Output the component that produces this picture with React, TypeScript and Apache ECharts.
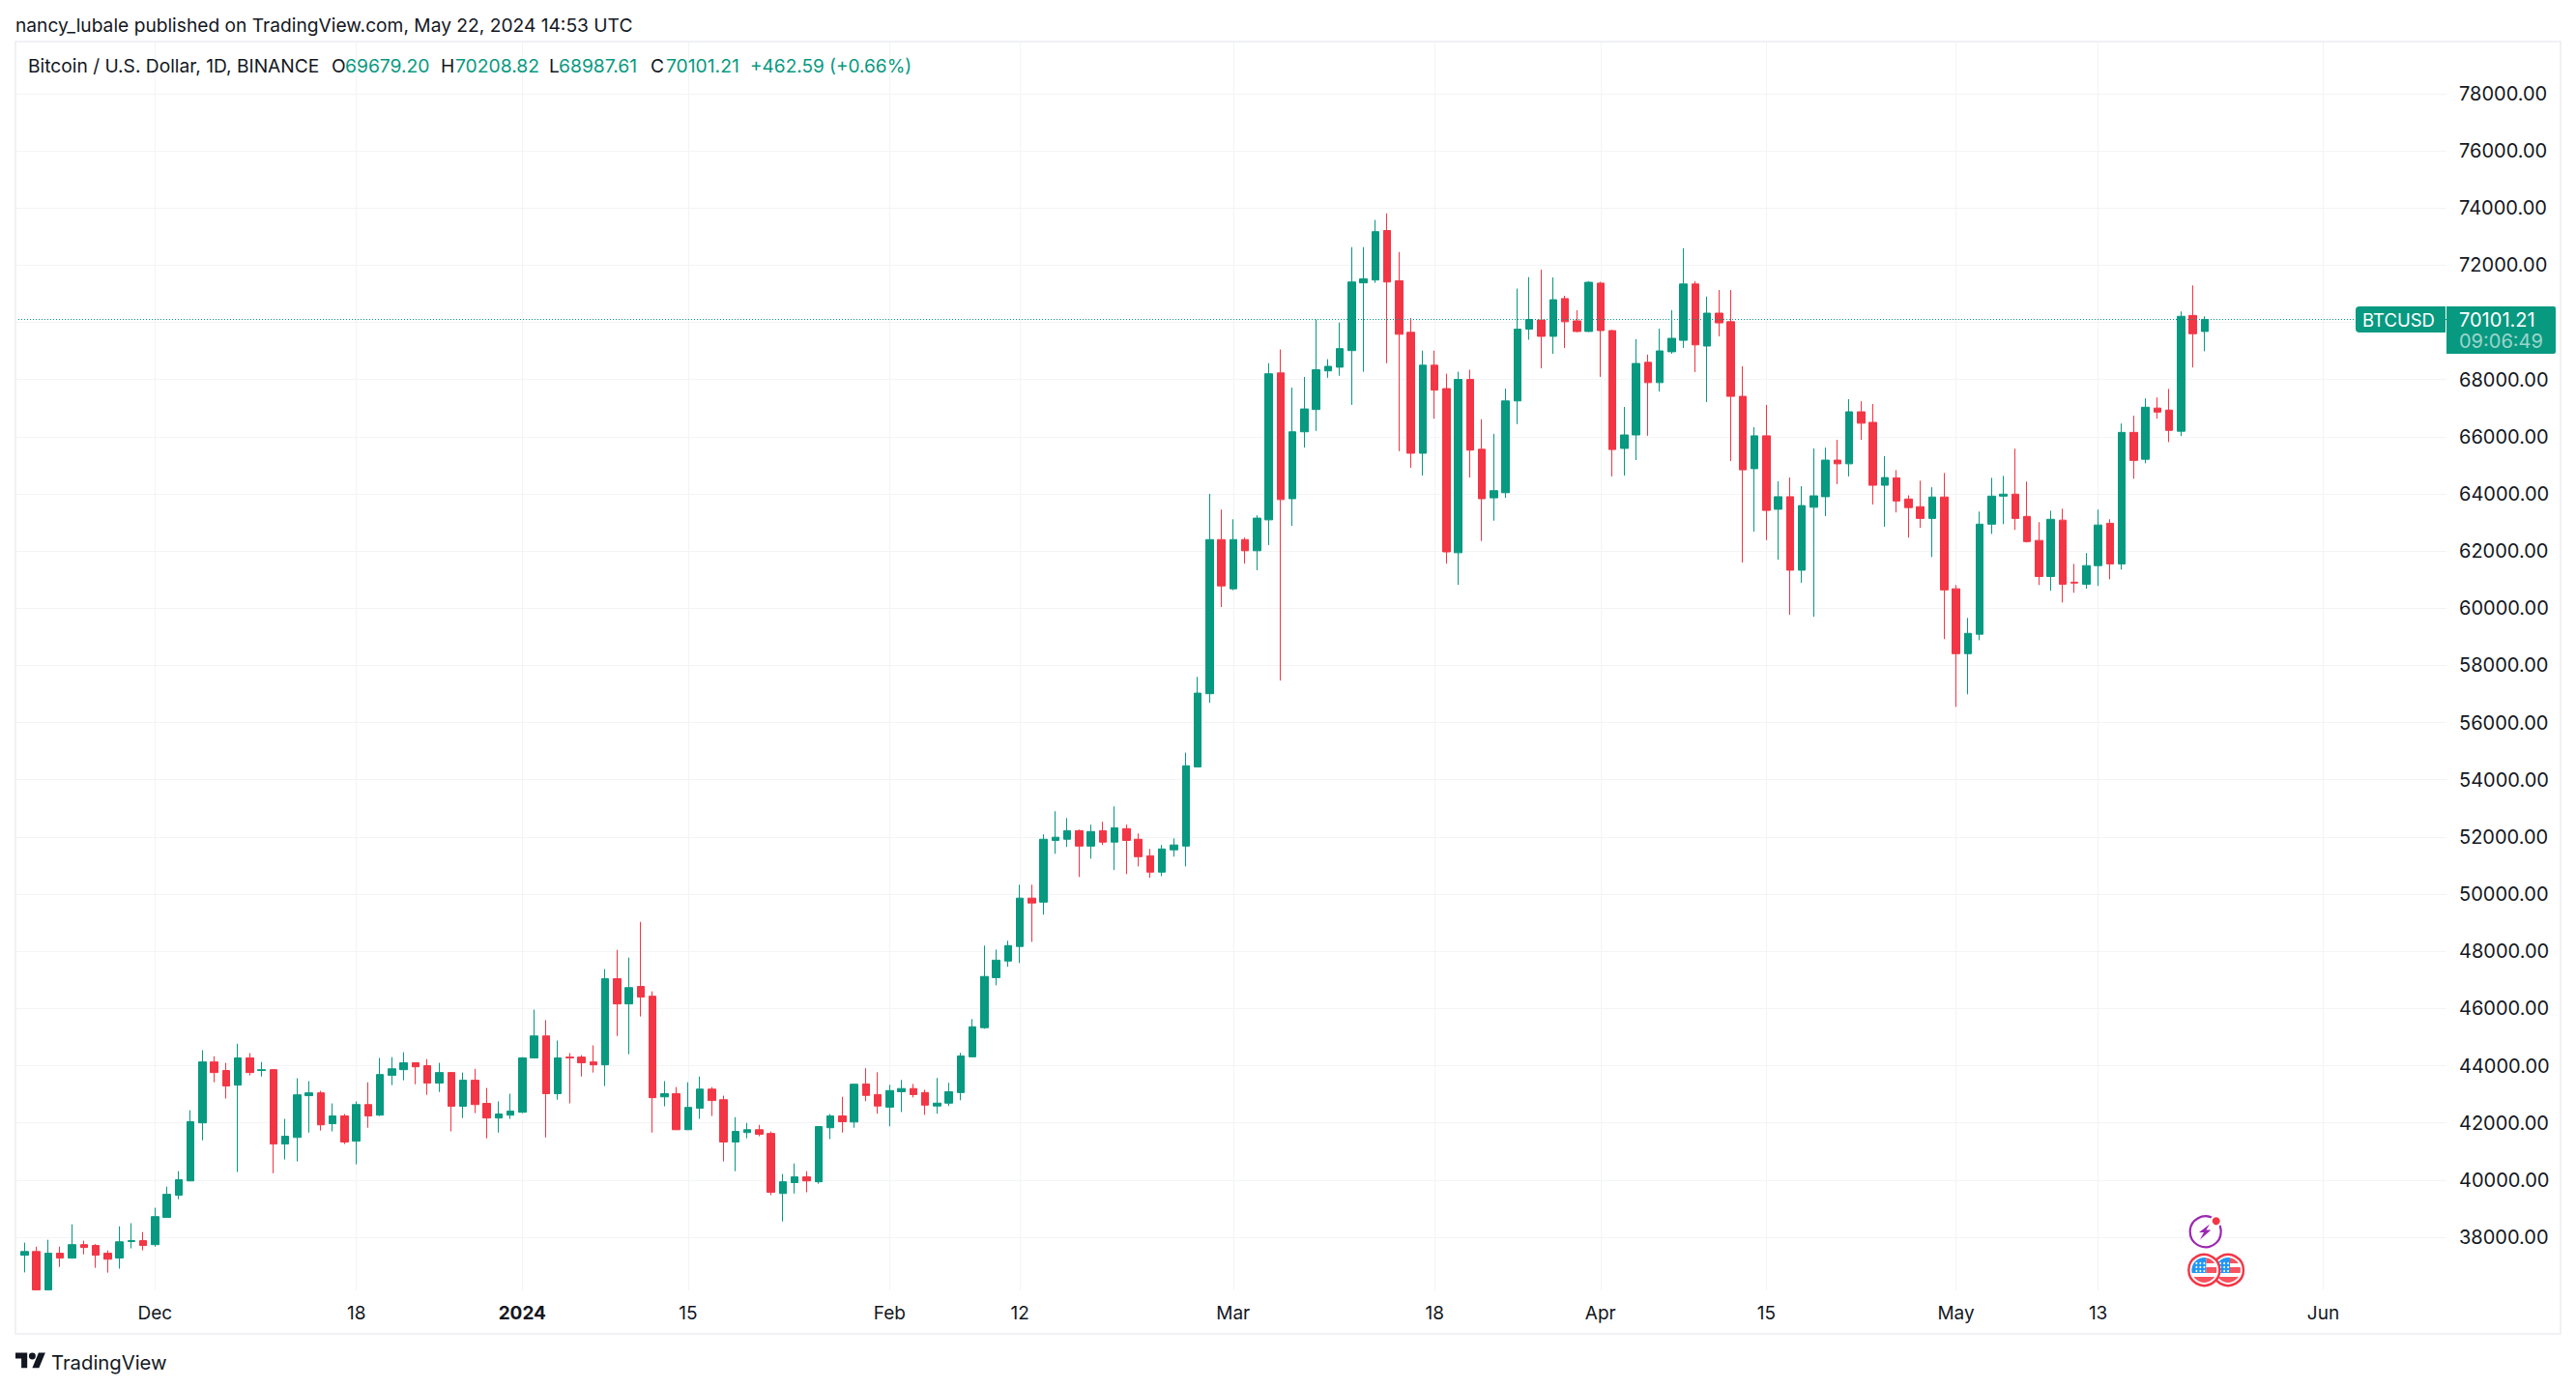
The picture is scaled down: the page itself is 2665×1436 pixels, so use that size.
import React, { useEffect, useRef } from "react";
import * as echarts from "echarts";

const DAY_MS = 86400000;
const firstDate = "2023-11-19";
const opens = [
36670,37370,37500,36160,37440,37270,37740,37710,37440,37270,
37850,37880,37740,38690,39470,39970,42000,44130,43830,43320,
44270,43830,43860,41260,41490,42950,43050,41970,42240,41360,
42640,42270,43660,43860,44100,44000,43390,43760,42580,43490,
42680,42170,42270,42370,44270,45040,43020,44300,44300,44130,
44030,47040,46160,46770,46430,42910,43020,41760,42510,43180,
42810,41330,41660,41760,41630,39530,39910,40110,39940,41830,
42240,42030,43360,42990,42550,43090,43200,43060,42590,42690,
43060,44310,45330,47080,47660,48170,49860,49720,51880,51920,
52220,51680,52220,51820,52290,51920,51340,50770,51550,51680,
54450,57010,62400,60680,62400,62010,63090,68230,63830,66170,
66950,68300,68430,69010,71380,71480,73210,71450,69650,65420,
68500,67680,61940,68000,65560,63860,64040,67250,69760,70080,
69510,70830,70050,69680,71370,69710,65590,66060,68600,67890,
68970,69370,71340,69170,70320,70020,67410,64880,66030,63460,
63900,61330,63530,63900,65180,65050,66870,66500,64300,64560,
63820,63550,63140,63890,60680,58410,59090,62940,63920,63990,
63210,62370,61110,63080,60910,60840,61490,62970,61550,66150,
65210,67000,66930,66190,70240,69679.2];
const closes = [
37400,37500,36160,37440,37270,37740,37640,37370,37230,37840,
37880,37710,38720,39500,40010,42040,44130,43760,43290,44270,
43760,43860,41260,41530,42980,43050,41930,42240,41330,42640,
42240,43690,43890,44100,43960,43390,43760,42580,43490,42640,
42170,42310,42410,44270,45040,43020,44270,44270,44100,44030,
47040,46160,46730,46400,42880,43020,41760,42540,43180,42780,
41330,41700,41760,41600,39570,39940,40110,39970,41870,42240,
42040,43350,42960,42590,43130,43200,42990,42620,42690,43090,
44340,45360,47120,47690,48200,49860,49690,51920,51990,52220,
51680,52190,51820,52320,51880,51310,50770,51580,51720,54490,
57030,62400,60780,62400,62010,63150,68200,63800,66170,66970,
68340,68460,69080,71410,71520,73170,71410,69580,65420,68500,
67630,61970,68000,65530,63830,64110,67250,69760,70100,69510,
70790,70020,69680,71400,69710,65550,66060,68560,67890,69000,
69440,71340,69210,70320,69980,67410,64840,66030,63420,63900,
61330,63590,63930,65180,65050,66870,66470,64300,64570,63750,
63520,63140,63890,60640,58410,59120,62940,63920,63990,63140,
62330,61110,63110,60840,60880,61490,62910,61550,66150,65170,
67030,66860,66220,70210,69600,70101.21];
const lows = [
36580,36770,36160,36160,36960,37250,37400,36930,36760,36900,
37610,37540,37670,38680,39330,39960,41390,43420,42850,40280,
43660,43620,40240,40720,40650,41660,41730,41700,41260,40550,
41830,42240,43320,43490,43350,42980,43080,41700,42170,42340,
41460,41660,42140,42340,44250,41490,42810,42680,43620,43760,
43290,45040,44400,45720,41660,42580,41750,41750,42140,42240,
40650,40310,41460,41530,39470,38550,39530,39570,39870,41430,
41660,41830,42760,42320,41880,42380,42890,42280,42320,42590,
42790,44300,45290,46810,47460,47590,48330,49280,51410,51650,
50600,51240,51720,50840,50700,50970,50570,50630,51310,50970,
54440,56690,60040,60630,61560,61330,62210,57470,62880,65620,
66200,68060,68130,67110,68270,71380,68570,65490,64910,64640,
66630,61560,60820,64570,62350,63060,63860,66440,69390,68390,
68900,69100,69650,69660,68090,64610,64640,65180,66030,67580,
68900,69100,68260,67210,69510,65150,61600,62680,62380,61700,
59770,60890,59700,63220,64340,64610,65890,63630,62850,63350,
62470,62810,61790,58920,56550,56990,58880,62600,62940,62740,
62300,60810,60610,60200,60540,60680,60780,61010,61350,64530,
65070,66630,65810,66020,68420,68987.61];
const highs = [
37500,37810,37670,37910,37670,38450,37880,37760,37540,38380,
38490,38180,39030,39770,40310,42440,44540,44330,44100,44770,
44440,44130,43880,42140,43560,43460,43120,42680,42310,42750,
43420,44270,44300,44470,44110,44230,44100,43770,43760,43890,
43220,42750,43020,44300,45960,45590,44880,44440,44370,44710,
47380,48050,47780,49030,46600,43460,43250,43420,43620,43250,
42950,42200,42000,41930,41700,40210,40580,40310,41880,42310,
42910,43370,43910,43770,43330,43500,43360,43160,43570,43400,
44450,45630,48200,48060,48370,50330,50330,52090,52900,52660,
52260,52430,52530,53070,52430,52120,51580,51720,51950,54950,
57600,64000,63450,63110,62470,63250,68570,69050,67720,68090,
70100,68710,69990,72630,72630,73580,73810,72460,70150,69010,
69010,68200,68270,68340,66610,66100,67680,71180,71580,71840,
71570,70930,70420,71440,71420,69730,67040,69410,68870,69780,
70420,72590,71440,70900,71130,71130,68460,66330,67110,64440,
64570,64270,65590,65620,65890,67310,67240,67140,65320,64830,
63950,64460,64230,64730,60810,59660,63380,64560,64630,65580,
64430,63010,63410,63480,61550,61930,63450,63110,66460,66730,
67340,67370,67670,70380,71290,70208.82];

const xTickDates = ["2023-12-01","2023-12-18","2024-01-01","2024-01-15","2024-02-01","2024-02-12","2024-03-01","2024-03-18","2024-04-01","2024-04-15","2024-05-01","2024-05-13","2024-06-01"];
const xTickLabels = ["Dec","18","2024","15","Feb","12","Mar","18","Apr","15","May","13","Jun"];
const yTicks = [38000,40000,42000,44000,46000,48000,50000,52000,54000,56000,58000,60000,62000,64000,66000,68000,70000,72000,74000,76000,78000];
// the 70000 label is hidden behind the last-price tag in the reference
const yLabels = [38000,40000,42000,44000,46000,48000,50000,52000,54000,56000,58000,60000,62000,64000,66000,68000,72000,74000,76000,78000];
const lastPrice = 70101.21;

const UP = "#089981";
const DOWN = "#F23645";
const GRID = "#F3F4F6";
const FRAME = "#F0F1F6";
const INK = "#131722";
const FONT = "Inter, 'Noto Sans', sans-serif";

// x axis unit: days counted from 1 Dec 2023
const dayIndex = (s: string) => Math.round((Date.parse(s + "T00:00:00Z") - Date.parse("2023-12-01T00:00:00Z")) / DAY_MS);
const firstIndex = dayIndex(firstDate);
const candles = opens.map((o, i) => [firstIndex + i, o, closes[i], lows[i], highs[i]]);
const tickValues = xTickDates.map(dayIndex);
const tickLabelOf = new Map<number, string>(tickValues.map((v, i) => [v, xTickLabels[i]]));

const txt = (text: string, x: number, y: number, size: number, fill: string, extra: any = {}) => ({
  type: "text",
  z: 20,
  style: { text, x, y, fill, font: `${extra.weight ?? 400} ${size}px ${FONT}`, textVerticalAlign: "middle", textAlign: extra.align ?? "left" },
});

const LOGO = "M14 22H7V11H0V4h14v18zM28 22h-8l7.5-18h8L28 22zM16 8a4 4 0 1 0 8 0a4 4 0 1 0-8 0z";
const FLAG_BLUE = "M-12.6 3L2 3L2-12.85A13 13 0 0 0-12.6 3z";
const FLAG_RED = "M-10.9 7L10.9 7A13 13 0 0 1-10.9 7zM2-12.85A13 13 0 0 1 10.9-7L2-7zM2-3L12.6-3A13 13 0 0 1 12.6 3L2 3z";
echarts.graphic.registerShape("tvLogo", echarts.graphic.extendPath(LOGO as any, {}) as any);
echarts.graphic.registerShape("flagBlue", echarts.graphic.extendPath(FLAG_BLUE as any, {}) as any);
echarts.graphic.registerShape("flagRed", echarts.graphic.extendPath(FLAG_RED as any, {}) as any);

const flag = (cx: number, cy: number) => {
  const stars: any[] = [];
  for (let r = 0; r < 3; r++) for (let c = 0; c < 3; c++) stars.push({ type: "circle", z: 22, shape: { cx: cx - 8 + c * 4, cy: cy - 7 + r * 4, r: 1 }, style: { fill: "#fff" } });
  return [
    { type: "circle", z: 21, shape: { cx, cy, r: 16 }, style: { fill: "#fff", stroke: DOWN, lineWidth: 2.4 } },
    { type: "flagRed", z: 22, x: cx, y: cy, style: { fill: "#F7525F" } },
    { type: "flagBlue", z: 22, x: cx, y: cy, style: { fill: "#2196F3" } },
    ...stars,
  ];
};

export default function App() {
  const ref = useRef<HTMLDivElement>(null);
  useEffect(() => {
    document.body.style.margin = "0";
    const chart = echarts.init(ref.current!, undefined, { renderer: "svg", width: 2665, height: 1436 });
    chart.setOption({
      animation: false,
      backgroundColor: "#ffffff",
      grid: { left: 16, top: 43, width: 2515, height: 1292 },
      xAxis: {
        type: "value",
        min: -11.773,
        max: 193.4,
        axisLine: { show: false },
        axisTick: { show: false, customValues: tickValues },
        splitLine: { show: true, lineStyle: { color: GRID, width: 1 } },
        axisLabel: {
          customValues: tickValues,
          margin: 14,
          fontFamily: FONT,
          fontSize: 19,
          color: INK,
          formatter: (v: number) => {
            const s = tickLabelOf.get(v) ?? "";
            return s === "2024" ? `{b|${s}}` : s;
          },
          rich: { b: { fontWeight: 700, fontSize: 19, fontFamily: FONT, color: INK } },
        },
      },
      yAxis: {
        type: "value",
        position: "right",
        min: 36141,
        max: 79819,
        axisLine: { show: false },
        axisTick: { show: false, customValues: yTicks },
        splitLine: { show: true, lineStyle: { color: GRID, width: 1 } },
        axisLabel: {
          customValues: yLabels,
          margin: 13,
          fontFamily: FONT,
          fontSize: 20,
          color: INK,
          formatter: (v: number) => v.toFixed(2),
        },
      },
      series: [
        {
          type: "candlestick",
          data: candles,
          barWidth: 8,
          clip: true,
          itemStyle: { color: UP, color0: DOWN, borderColor: UP, borderColor0: DOWN, borderWidth: 1 },
          markLine: {
            silent: true,
            symbol: "none",
            label: { show: false },
            lineStyle: { color: UP, type: [1, 2], width: 1 },
            data: [{ yAxis: lastPrice }],
          },
        },
      ],
      graphic: [
        { type: "rect", z: 14, shape: { x: 0, y: 43, width: 16, height: 1337 }, style: { fill: "#ffffff" } },
        { type: "rect", z: 15, shape: { x: 16, y: 43, width: 2633, height: 1337 }, style: { fill: "none", stroke: FRAME, lineWidth: 2 } },
        txt("nancy_lubale published on TradingView.com, May 22, 2024 14:53 UTC", 16, 26, 19.2, INK),
        txt("Bitcoin / U.S. Dollar, 1D, BINANCE", 29, 68, 19.2, INK),
        txt("O", 343, 68, 19.2, INK),
        txt("69679.20", 357, 68, 19.3, UP),
        txt("H", 456, 68, 19.2, INK),
        txt("70208.82", 471, 68, 19.3, UP),
        txt("L", 568, 68, 19.2, INK),
        txt("68987.61", 578, 68, 19.3, UP),
        txt("C", 673, 68, 19.2, INK),
        txt("70101.21", 689, 68, 19.3, UP),
        txt("+462.59 (+0.66%)", 776, 68, 19, UP),
        { type: "rect", z: 18, shape: { x: 2437, y: 317, width: 93, height: 27, r: [4, 0, 0, 4] }, style: { fill: UP } },
        txt("BTCUSD", 2444, 331, 18.5, "#ffffff"),
        { type: "rect", z: 18, shape: { x: 2531, y: 317, width: 113, height: 49, r: [0, 2, 2, 0] }, style: { fill: UP } },
        {
          type: "text",
          z: 20,
          style: {
            x: 2544,
            y: 320,
            text: "{a|70101.21}\n{b|09:06:49}",
            rich: {
              a: { fill: "#ffffff", fontSize: 20, fontFamily: FONT, lineHeight: 22 },
              b: { fill: "rgba(255,255,255,0.6)", fontSize: 20, fontFamily: FONT, lineHeight: 22 },
            },
          },
        },
        { type: "tvLogo", z: 20, x: 16, y: 1396, scaleX: 0.87, scaleY: 0.87, style: { fill: INK } },
        txt("TradingView", 53, 1409, 20.3, INK),
        { type: "circle", z: 21, shape: { cx: 2281.7, cy: 1274.3, r: 16 }, style: { fill: "#fff", stroke: "#9C27B0", lineWidth: 2.2 } },
        { type: "polygon", z: 22, shape: { points: [[2286, 1266.6], [2275, 1275], [2280, 1275], [2276, 1282.6], [2287.4, 1272.6], [2282.4, 1272.6]] }, style: { fill: "#9C27B0" } },
        { type: "circle", z: 23, shape: { cx: 2292.7, cy: 1263.3, r: 6 }, style: { fill: "#fff" } },
        { type: "circle", z: 24, shape: { cx: 2292.7, cy: 1263.3, r: 4 }, style: { fill: DOWN } },
        ...flag(2305, 1314),
        ...flag(2280.3, 1314).map((g: any) => ({ ...g, z: g.z + 5 })),
      ],
    });
    return () => chart.dispose();
  }, []);
  return <div ref={ref} style={{ width: 2665, height: 1436 }} />;
}
